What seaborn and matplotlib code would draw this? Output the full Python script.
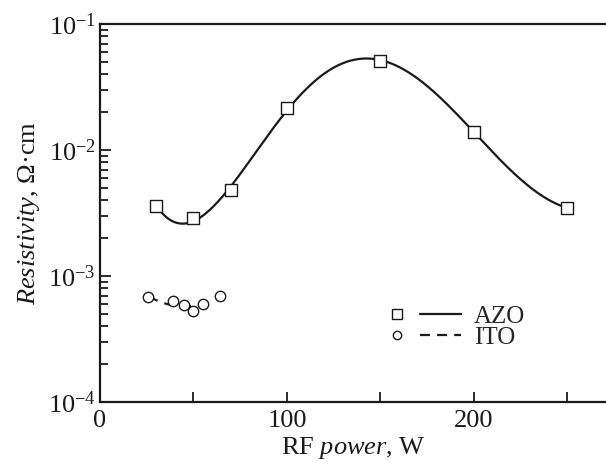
import numpy as np
import pandas as pd
import matplotlib
matplotlib.use("Agg")
import matplotlib.pyplot as plt
import seaborn as sns
from matplotlib.lines import Line2D
from matplotlib.legend_handler import HandlerBase
from matplotlib.ticker import LogLocator, MultipleLocator

# ---- data ----
azo_power = [30, 50, 70, 100, 150, 200, 250]
azo_rho = [3.6e-3, 2.88e-3, 4.8e-3, 2.15e-2, 5.1e-2, 1.39e-2, 3.47e-3]
ito_power = [25.5, 39, 45, 50, 55, 64]
ito_rho = [6.8e-4, 6.34e-4, 5.85e-4, 5.3e-4, 6.0e-4, 7.0e-4]
ito_fit_range = [26, 59]
x_ticks_major = [0, 100, 200]
series_names = ["AZO", "ITO"]

sns.set_theme(style="ticks")
plt.rcParams['font.family'] = ['Liberation Serif', 'DejaVu Serif']
plt.rcParams['mathtext.fontset'] = 'custom'
plt.rcParams['mathtext.rm'] = 'Liberation Serif'
plt.rcParams['mathtext.it'] = 'Liberation Serif:italic'
plt.rcParams['mathtext.default'] = 'regular'

INK = "#1a1a1a"

# smooth curves: least-squares fits of the data in log space
xs_azo = np.linspace(azo_power[0], azo_power[-1], 400)
coef_azo = np.polyfit(azo_power, np.log10(azo_rho), 5)
ys_azo = 10 ** np.polyval(coef_azo, xs_azo)
coef = np.polyfit(ito_power, np.log10(ito_rho), 2)
xs_ito = np.linspace(ito_fit_range[0], ito_fit_range[1], 100)
ys_ito = 10 ** np.polyval(coef, xs_ito)

df_azo = pd.DataFrame({"x": azo_power, "y": azo_rho})
df_ito = pd.DataFrame({"x": ito_power, "y": ito_rho})

fig = plt.figure(figsize=(6.06, 4.66), dpi=100)
ax = fig.add_axes([0.165, 0.137, 0.835, 0.8115])

lw = 1.6
dash = (0, (4.5, 3.2))
sns.lineplot(x=xs_azo, y=ys_azo, ax=ax, color=INK, lw=lw, sort=False)
sns.lineplot(x=xs_ito, y=ys_ito, ax=ax, color=INK, lw=lw, sort=False)
ax.lines[-1].set_linestyle(dash)
sns.scatterplot(data=df_azo, x="x", y="y", ax=ax, marker="s", s=66,
                facecolor="white", edgecolor=INK, linewidth=1.0, zorder=3)
sns.scatterplot(data=df_ito, x="x", y="y", ax=ax, marker="o", s=56,
                facecolor="white", edgecolor=INK, linewidth=1.0, zorder=3)

ax.set_yscale("log")
ax.set_ylim(1e-4, 1e-1)
ax.set_xlim(0, 270.6)
ax.xaxis.set_major_locator(MultipleLocator(50))
ax.xaxis.set_major_formatter(plt.FuncFormatter(lambda v, p: f"{int(round(v))}" if int(round(v)) in x_ticks_major else ""))
ax.yaxis.set_major_locator(LogLocator(base=10))
ax.yaxis.set_minor_locator(LogLocator(base=10, subs=np.arange(2, 10)))
ax.yaxis.set_minor_formatter(plt.NullFormatter())

for s in ["left", "bottom", "top"]:
    ax.spines[s].set_linewidth(1.6)
    ax.spines[s].set_color(INK)
ax.spines["right"].set_visible(False)
ax.tick_params(axis="both", which="both", direction="in", colors=INK, labelcolor=INK, labelsize=19)
ax.tick_params(axis="x", which="major", length=7, width=1.3, pad=6)
ax.tick_params(axis="y", which="major", length=8, width=1.3, pad=3)
ax.tick_params(axis="y", which="minor", length=6, width=1.3)
ax.tick_params(axis="y", right=False)
ax.tick_params(axis="x", top=False)

ax.set_xlabel(r"RF $\mathit{power}$, W", fontsize=19, color=INK, labelpad=2)
ax.set_ylabel(r"$\mathit{Resistivity}$, Ω·cm", fontsize=19, color=INK, labelpad=4)


class MarkerThenLine(HandlerBase):
    def __init__(self, marker, ms, ls):
        super().__init__()
        self.marker, self.ms, self.ls = marker, ms, ls

    def create_artists(self, legend, orig_handle, xdescent, ydescent, width, height, fontsize, trans):
        y = height / 2 - ydescent
        m = Line2D([width * 0.10 - xdescent], [y], ls="none", marker=self.marker, ms=self.ms,
                   mfc="white", mec=INK, mew=1.0)
        l = Line2D([width * 0.42 - xdescent, width - xdescent], [y, y], color=INK, lw=lw, ls=self.ls)
        m.set_transform(trans); l.set_transform(trans)
        return [m, l]


h_azo = Line2D([], [], color=INK)
h_ito = Line2D([], [], color=INK, ls="--")
ax.legend([h_azo, h_ito], series_names,
          handler_map={h_azo: MarkerThenLine("s", 7.5, "-"), h_ito: MarkerThenLine("o", 6, dash)},
          handlelength=2.85, handletextpad=0.5, labelspacing=-0.05, frameon=False, borderpad=0,
          fontsize=18, loc="center left", bbox_to_anchor=(0.573, 0.198), borderaxespad=0)

fig.savefig("out.png", dpi=100)
